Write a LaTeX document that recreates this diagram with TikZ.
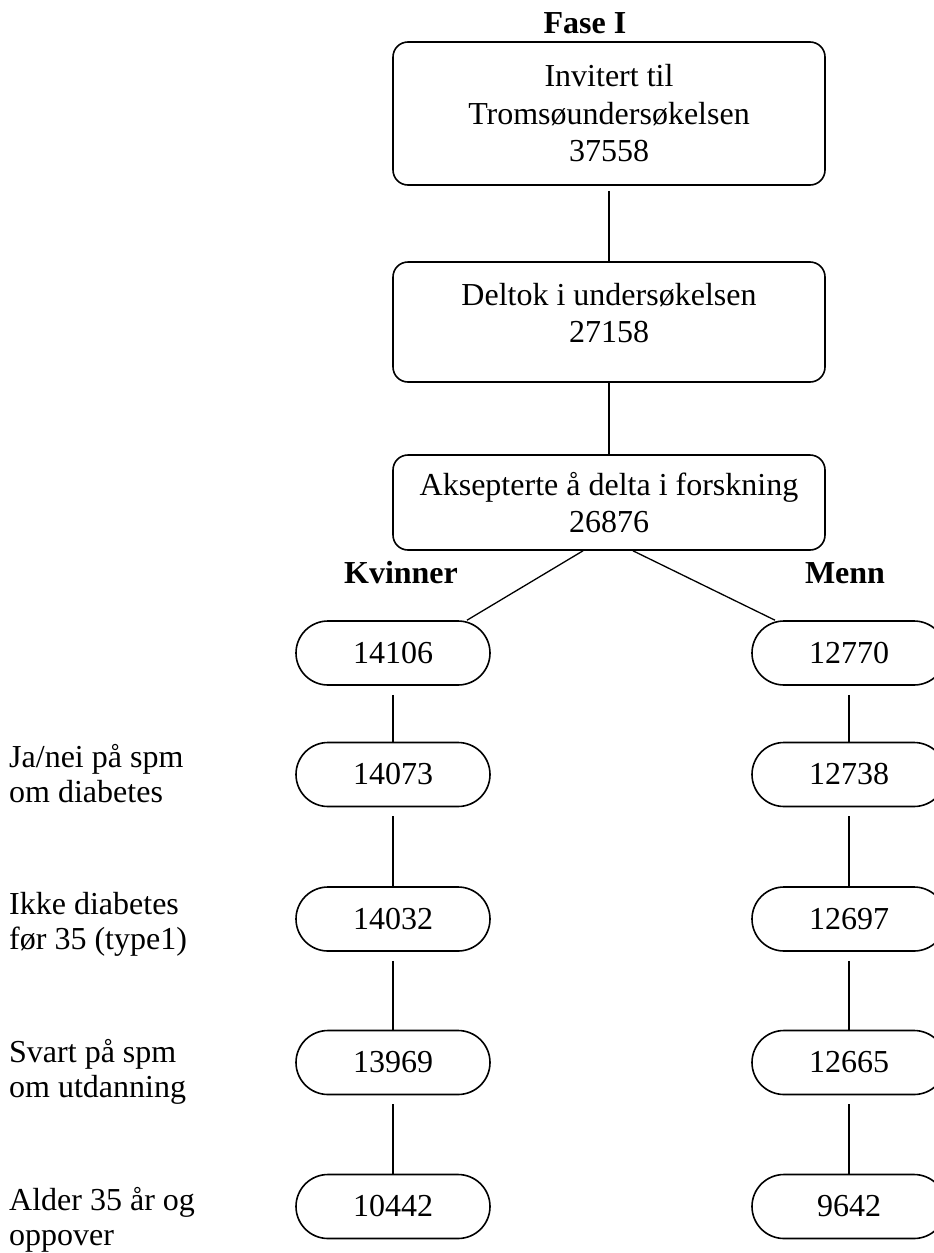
\documentclass[tikz,border=0pt]{standalone}
\usepackage{fontspec}
\setmainfont{Liberation Serif}
\usetikzlibrary{calc}
\tikzset{
  bigbox/.style={draw, line width=1.6pt, rounded corners=15pt, minimum width=432pt, inner sep=0pt, align=center, font=\fontsize{32}{37.5}\selectfont},
  pill/.style={draw, line width=1.6pt, rounded corners=32pt, minimum width=194pt, minimum height=64pt, inner sep=0pt, font=\fontsize{32}{37.5}\selectfont},
  boxtext/.style={align=center, inner sep=0pt, font=\fontsize{32}{37.5}\selectfont},
  sidelabel/.style={anchor=west, align=left, inner sep=0pt, font=\fontsize{32}{35}\selectfont},
  heading/.style={inner sep=0pt, font=\fontsize{32}{37.5}\selectfont\bfseries},
  conn/.style={line width=1.3pt}
}
\begin{document}
\begin{tikzpicture}[x=1pt, y=-1pt]
\useasboundingbox (0,0) rectangle (934,1253);
\clip (0,0) rectangle (934,1253);
\fill[white] (0,0) rectangle (934,1253);

% headings
\node[heading] (fase) at (585,23) {Fase I};
\node[heading] (kv) at (401,573) {Kvinner};
\node[heading] (me) at (845,573) {Menn};

% top boxes
\node[bigbox, minimum height=143pt] (b1) at (609,113.5) {Invitert til\\Tromsøundersøkelsen\\37558};
\node[bigbox, minimum height=120pt] (b2) at (609,322) {};
\node[boxtext] (b2t) at (609,313) {Deltok i undersøkelsen\\27158};
\node[bigbox, minimum height=95pt] (b3) at (609,502.5) {Aksepterte å delta i forskning\\26876};

\draw[conn, shorten <=5pt] (b1.south) -- (b2.north);
\draw[conn] (b2.south) -- (b3.north);

% women
\node[pill] (k1) at (393,653) {14106};
\node[pill] (k2) at (393,774.5) {14073};
\node[pill] (k3) at (393,919) {14032};
\node[pill] (k4) at (393,1062.5) {13969};
\node[pill] (k5) at (393,1206.5) {10442};
% men
\node[pill] (m1) at (849,653) {12770};
\node[pill] (m2) at (849,774.5) {12738};
\node[pill] (m3) at (849,919) {12697};
\node[pill] (m4) at (849,1062.5) {12665};
\node[pill] (m5) at (849,1206.5) {9642};

\draw[conn] ($(b3.south)+(-26,0)$) -- ($(k1.north)+(74,0)$);
\draw[conn] ($(b3.south)+(24,0)$) -- ($(m1.north)+(-74,0)$);

\foreach \a/\b in {k1/k2,k2/k3,k3/k4,k4/k5,m1/m2,m2/m3,m3/m4,m4/m5}{
  \draw[conn, shorten <=9pt] (\a.south) -- (\b.north);
}

% side labels
\node[sidelabel] (l1) at (9,773.5) {Ja/nei på spm\\om diabetes};
\node[sidelabel] (l2) at (9,924) {Ikke diabetes\\før 35 (type1)};
\node[sidelabel] (l3) at (9,1072) {Svart på spm\\om utdanning};
\node[sidelabel] (l4) at (9,1220) {Alder 35 år og\\oppover};
\end{tikzpicture}
\end{document}
